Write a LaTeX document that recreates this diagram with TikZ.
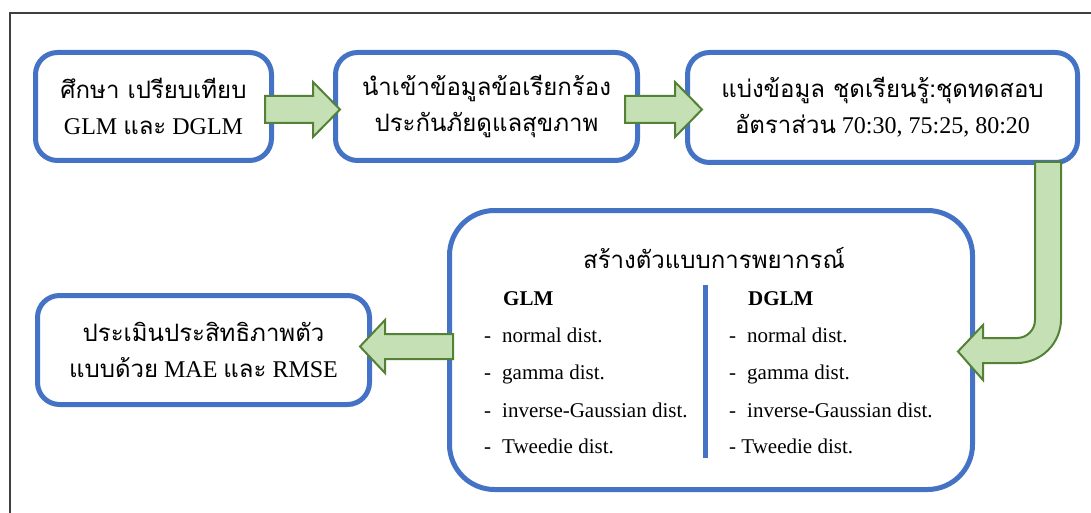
\documentclass[tikz,border=0pt]{standalone}
\usepackage{fontspec}
\setmainfont{Liberation Serif}
\newfontfamily\thaifont[Script=Thai]{Loma}
\newfontfamily\latfont{Liberation Serif}
\newcommand{\tht}[1]{{\thaifont #1}}
\newcommand{\lat}[1]{{\latfont #1}}
\definecolor{boxblue}{HTML}{4472C4}
\definecolor{arrfill}{HTML}{C5E0B4}
\definecolor{arrline}{HTML}{538135}
\definecolor{framegray}{HTML}{404040}
\begin{document}
\begin{tikzpicture}[x=1pt,y=-1pt,
  box/.style={draw=boxblue,line width=5pt,rounded corners=22pt,fill=white,
    align=center,inner sep=0pt,font=\fontsize{24}{36}\selectfont},
  blockarrow/.style={fill=arrfill,draw=arrline,line width=2pt,line join=miter},
  item/.style={anchor=base west,inner sep=0pt,font=\fontsize{21}{24}\selectfont},
  head/.style={anchor=base west,inner sep=0pt,font=\fontsize{21}{24}\selectfont\bfseries}]
\useasboundingbox (0,0) rectangle (1091,513);
\draw[framegray,line width=2pt] (10,520) -- (10,13) -- (1095,13);
% boxes
\node[box,minimum width=236pt,minimum height=108pt] (b1) at (153.5,106.5)
  {\tht{ศึกษา เปรียบเทียบ}\\\lat{GLM} \tht{และ} \lat{DGLM}};
\node[box,minimum width=302pt,minimum height=108pt] (b2) at (486.5,106.5)
  {\tht{นำเข้าข้อมูลข้อเรียกร้อง}\\\tht{ประกันภัยดูแลสุขภาพ}};
\node[box,minimum width=390pt,minimum height=110pt] (b3) at (882.5,107.5)
  {\tht{แบ่งข้อมูล ชุดเรียนรู้:ชุดทดสอบ}\\\tht{อัตราส่วน} \lat{70:30, 75:25, 80:20}};
\node[box,rounded corners=45pt,minimum width=523pt,minimum height=279pt] (b4) at (711,350) {};
\node[box,minimum width=332pt,minimum height=109pt] (b5) at (203.5,350)
  {\tht{ประเมินประสิทธิภาพตัว}\\\tht{แบบด้วย} \lat{MAE} \tht{และ} \lat{RMSE}};
% title and lists inside b4
\node[inner sep=0pt,font=\fontsize{24}{28}\selectfont] (title) at (714,258) {\tht{สร้างตัวแบบการพยากรณ์}};
\draw[boxblue,line width=5pt] (705,285) coordinate (d1) -- (705,458) coordinate (d2);
\node[head] (glm) at (503,305) {GLM};
\node[item] (g1) at (484,342) {-\hspace{11pt}normal dist.};
\node[item] (g2) at (484,379) {-\hspace{11pt}gamma dist.};
\node[item] (g3) at (484,417) {-\hspace{11pt}inverse-Gaussian dist.};
\node[item] (g4) at (484,453) {-\hspace{11pt}Tweedie dist.};
\node[head] (dglm) at (748,305) {DGLM};
\node[item] (h1) at (729,342) {-\hspace{11pt}normal dist.};
\node[item] (h2) at (729,379) {-\hspace{11pt}gamma dist.};
\node[item] (h3) at (729,417) {-\hspace{11pt}inverse-Gaussian dist.};
\node[item] (h4) at (729,453) {- Tweedie dist.};
% arrows
\draw[blockarrow] (265,96) -- (313,96) -- (313,82) -- (340,109.5) -- (313,137) -- (313,123) -- (265,123) -- cycle;
\draw[blockarrow] (625,96) -- (675,96) -- (675,82) -- (702,109.5) -- (675,137) -- (675,123) -- (625,123) -- cycle;
\draw[blockarrow] (453,334) -- (385,334) -- (385,320) -- (360,346.5) -- (385,373) -- (385,359) -- (453,359) -- cycle;
\draw[blockarrow] (1035,162) -- (1061,162) -- (1061,319)
  .. controls (1061,343.3) and (1041.3,363) .. (1017,363)
  -- (983,363) -- (983,380) -- (958,351.5) -- (983,325) -- (983,338) -- (1017,338)
  .. controls (1026.9,338) and (1035,329.9) .. (1035,320) -- cycle;
\end{tikzpicture}
\end{document}
